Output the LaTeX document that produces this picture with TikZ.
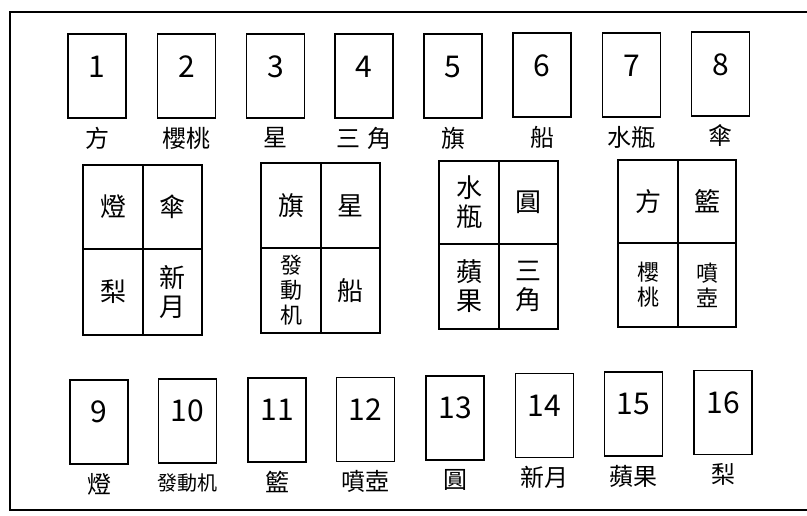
\documentclass[tikz,border=0pt]{standalone}
\usepackage{fontspec}
\setmainfont{Noto Sans CJK TC}
\begin{document}
\begin{tikzpicture}[x=1pt,y=-1pt,
  card/.style={draw,line width=1.9pt,minimum width=58pt,minimum height=84pt,inner sep=0pt},
  num/.style={font=\fontsize{30}{30}\selectfont,inner sep=0pt},
  lab/.style={font=\fontsize{24}{24}\selectfont,inner sep=0pt},
  cell/.style={draw,line width=1.9pt,inner sep=0pt,align=center,font=\fontsize{26}{29}\selectfont},
  small/.style={font=\fontsize{22}{25}\selectfont}]
\useasboundingbox (0,0) rectangle (807,516);
\draw[line width=1.9pt] (807,12) -- (10,12) -- (10,510) -- (807,510);
% top cards
\foreach \n/\x/\y/\t in {1/97/76/方,2/186.5/76/櫻桃,3/275.5/76/星,4/364/76/三\,\,角,5/453/76/旗,6/542/75/船,7/631.5/75/水瓶,8/720.5/74/傘}{
  \node[card] (c\n) at (\x,\y) {};
  \node[num] (n\n) at ([yshift=9pt]c\n.center) {\n};
  \node[lab] (l\n) at ([yshift=-19pt]c\n.south) {\t};
}
% bottom cards
\foreach \n/\x/\y/\t in {9/99/422/燈,11/277/420/籃,12/365.5/419.5/噴壺,13/455/418/圓,14/544.5/415.5/新月,15/633.5/414/蘋果,16/723/412.5/梨}{
  \node[card] (c\n) at (\x,\y) {};
  \node[num] (n\n) at ([yshift=10pt]c\n.center) {\n};
  \node[lab] (l\n) at ([yshift=-19pt]c\n.south) {\t};
}
\node[card] (c10) at (187.5,421) {};
\node[num] (n10) at ([yshift=10pt]c10.center) {10};
\node[lab,font=\fontsize{20}{20}\selectfont] (l10) at ([yshift=-19pt]c10.south) {發動机};
% grid 1: L83 R202 M143 T165 B335 D249
\node[cell,minimum width=60pt,minimum height=84pt] (g1a) at (113,207) {燈};
\node[cell,minimum width=59pt,minimum height=84pt] (g1b) at (172.5,207) {傘};
\node[cell,minimum width=60pt,minimum height=86pt] (g1c) at (113,292) {梨};
\node[cell,minimum width=59pt,minimum height=86pt] (g1d) at (172.5,292) {新\\月};
% grid 2: L261 R380 M321 T163 B333 D248
\node[cell,minimum width=60pt,minimum height=85pt] (g2a) at (291,205.5) {旗};
\node[cell,minimum width=59pt,minimum height=85pt] (g2b) at (350.5,205.5) {星};
\node[cell,small,minimum width=60pt,minimum height=85pt] (g2c) at (291,290.5) {發\\動\\机};
\node[cell,minimum width=59pt,minimum height=85pt] (g2d) at (350.5,290.5) {船};
% grid 3: L439 R558 M499 T161 B329 D244
\node[cell,minimum width=60pt,minimum height=83pt] (g3a) at (469,202.5) {水\\瓶};
\node[cell,minimum width=59pt,minimum height=83pt] (g3b) at (528.5,202.5) {圓};
\node[cell,minimum width=60pt,minimum height=85pt] (g3c) at (469,286.5) {蘋\\果};
\node[cell,minimum width=59pt,minimum height=85pt] (g3d) at (528.5,286.5) {三\\角};
% grid 4: L618 R736 M678 T160 B327 D243
\node[cell,minimum width=60pt,minimum height=83pt] (g4a) at (648,201.5) {方};
\node[cell,minimum width=58pt,minimum height=83pt] (g4b) at (707,201.5) {籃};
\node[cell,small,minimum width=60pt,minimum height=84pt] (g4c) at (648,285) {櫻\\桃};
\node[cell,small,minimum width=58pt,minimum height=84pt] (g4d) at (707,285) {噴\\壺};
\end{tikzpicture}
\end{document}
